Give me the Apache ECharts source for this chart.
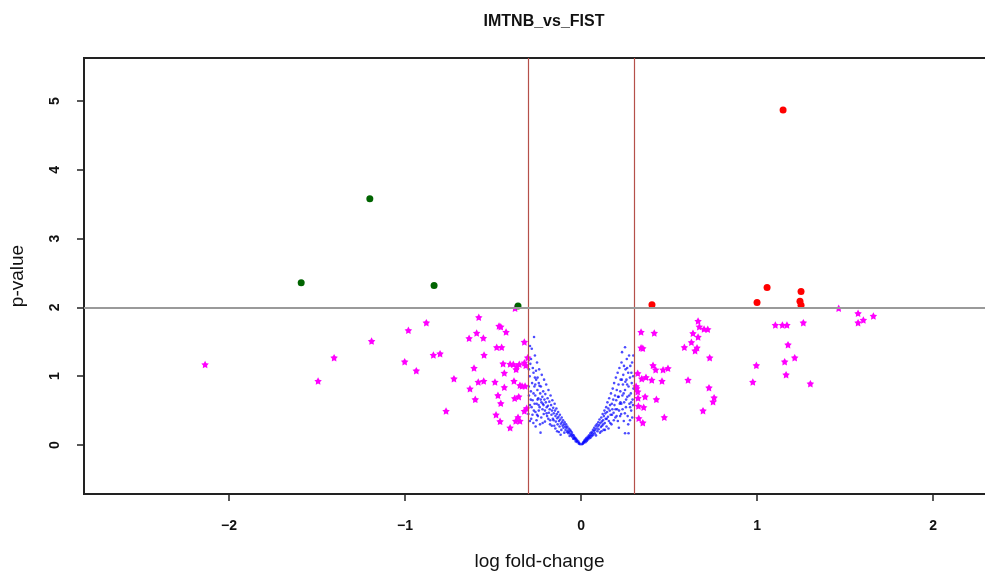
<!DOCTYPE html>
<html>
<head>
<meta charset="utf-8">
<script src="https://cdn.jsdelivr.net/npm/echarts@6/dist/echarts.min.js"></script>
<style>html,body{margin:0;padding:0;background:#fff;overflow:hidden;}#chart{width:1000px;height:577px;}</style>
</head>
<body>
<div id="chart"></div>
<script>
const titleText = 'IMTNB_vs_FIST';
const xName = 'log fold-change';
const yName = 'p-value';
const xTicks = [-2, -1, 0, 1, 2];
const yTicks = [0, 1, 2, 3, 4, 5];
const fcCutoffs = [-0.3, 0.3];
const pCutoff = 2;

const downPoints = [[-1.59, 2.36], [-1.20, 3.58], [-0.835, 2.32], [-0.358, 2.02]];
const upPoints = [[0.403, 2.04], [1.148, 4.87], [1.057, 2.29], [1.0, 2.07], [1.25, 2.23], [1.244, 2.09], [1.25, 2.03]];

const starPoints = [
[-2.136,1.17],[-1.494,0.93],[-1.403,1.27],[-1.19,1.51],
[-0.981,1.667],[-0.879,1.778],[-1.002,1.211],[-0.936,1.080],[-0.839,1.308],[-0.801,1.327],[-0.722,0.964],[-0.767,0.494],
[-0.581,1.856],[-0.636,1.551],[-0.593,1.628],[-0.555,1.555],[-0.466,1.730],[-0.456,1.719],[-0.426,1.642],[-0.479,1.420],
[-0.451,1.420],[-0.551,1.308],[-0.608,1.119],[-0.443,1.182],[-0.403,1.177],[-0.385,1.173],[-0.365,1.138],[-0.351,1.173],
[-0.369,1.100],[-0.322,1.196],[-0.314,1.158],[-0.322,1.497],[-0.303,1.269],[-0.436,1.047],[-0.584,0.916],[-0.553,0.930],
[-0.489,0.916],[-0.631,0.818],[-0.436,0.839],[-0.381,0.930],[-0.347,0.868],[-0.335,0.858],[-0.318,0.858],[-0.472,0.722],
[-0.601,0.664],[-0.377,0.679],[-0.354,0.702],[-0.456,0.606],[-0.309,0.533],[-0.322,0.494],[-0.483,0.440],[-0.460,0.344],
[-0.358,0.403],[-0.371,0.349],[-0.347,0.349],[-0.403,0.251],[-0.375,1.987],
[0.341,1.642],[0.416,1.628],[0.341,1.414],[0.351,1.406],[0.322,1.042],[0.345,0.964],[0.369,0.984],[0.402,0.945],
[0.409,1.158],[0.424,1.094],[0.466,1.094],[0.494,1.115],[0.460,0.930],[0.313,0.853],[0.316,0.824],[0.322,0.775],
[0.324,0.683],[0.364,0.702],[0.428,0.664],[0.326,0.567],[0.356,0.548],[0.328,0.388],[0.351,0.324],[0.473,0.403],
[0.665,1.802],[0.672,1.719],[0.699,1.686],[0.720,1.682],[0.636,1.624],[0.665,1.570],[0.627,1.493],[0.587,1.420],
[0.659,1.414],[0.648,1.371],[0.731,1.269],[0.608,0.945],[0.727,0.833],[0.756,0.688],[0.750,0.629],[0.693,0.499],
[0.996,1.158],[0.976,0.916],[1.464,1.987],[1.574,1.914],[1.604,1.817],[1.574,1.778],[1.661,1.875],[1.104,1.744],
[1.144,1.744],[1.170,1.744],[1.263,1.778],[1.176,1.458],[1.214,1.269],[1.157,1.211],[1.165,1.022],[1.303,0.891]
];

const nsPoints = [
[-0.005,0.01],[-0.01,0.03],[-0.012,0.02],[-0.015,0.05],[-0.02,0.04],[-0.022,0.07],[-0.025,0.06],[-0.028,0.09],[-0.03,0.05],
[-0.033,0.1],[-0.035,0.08],[-0.038,0.12],[-0.04,0.1],[-0.042,0.14],[-0.045,0.09],[-0.048,0.15],[-0.05,0.12],[-0.052,0.18],
[-0.055,0.14],[-0.058,0.2],[-0.06,0.16],[-0.062,0.22],[-0.065,0.13],[-0.068,0.19],[-0.07,0.24],[-0.072,0.17],[-0.075,0.21],
[-0.078,0.27],[-0.08,0.19],[-0.083,0.25],[-0.085,0.3],[-0.088,0.22],[-0.09,0.27],[-0.093,0.33],[-0.095,0.18],[-0.098,0.3],
[-0.1,0.25],[-0.102,0.36],[-0.105,0.28],[-0.108,0.33],[-0.11,0.4],[-0.112,0.22],[-0.115,0.31],[-0.118,0.37],[-0.12,0.44],
[-0.122,0.27],[-0.125,0.35],[-0.128,0.41],[-0.13,0.48],[-0.133,0.3],[-0.135,0.39],[-0.138,0.45],[-0.14,0.53],[-0.143,0.34],
[-0.145,0.42],[-0.148,0.5],[-0.15,0.6],[-0.152,0.28],[-0.155,0.46],[-0.158,0.54],[-0.16,0.38],[-0.163,0.65],[-0.165,0.5],
[-0.168,0.44],[-0.17,0.58],[-0.173,0.72],[-0.175,0.36],[-0.178,0.52],[-0.18,0.63],[-0.183,0.47],[-0.185,0.8],[-0.188,0.57],
[-0.19,0.68],[-0.193,0.42],[-0.195,0.55],[-0.198,0.88],[-0.2,0.62],[-0.203,0.74],[-0.205,0.5],[-0.208,0.66],[-0.21,0.95],
[-0.213,0.58],[-0.215,0.78],[-0.218,0.32],[-0.22,0.7],[-0.223,1.02],[-0.225,0.62],[-0.228,0.85],[-0.23,0.18],[-0.232,0.75],
[-0.235,0.55],[-0.238,1.1],[-0.24,0.9],[-0.243,0.68],[-0.245,0.42],[-0.248,0.8],[-0.25,1.2],[-0.252,0.6],[-0.255,0.95],
[-0.258,0.27],[-0.26,0.72],[-0.262,1.3],[-0.265,0.85],[-0.268,0.5],[-0.27,1.05],[-0.267,1.57],[-0.275,0.65],[-0.278,0.9],
[-0.28,1.4],[-0.283,0.38],[-0.285,0.78],[-0.288,1.18],[-0.29,0.58],[-0.292,1.0],[-0.29,1.44],[-0.297,0.85],[-0.299,0.45],
[-0.205,0.34],[-0.212,0.45],[-0.219,0.52],[-0.226,0.4],[-0.233,0.3],[-0.241,0.58],[-0.247,0.66],[-0.253,0.36],[-0.259,0.48],
[-0.264,0.6],[-0.271,0.32],[-0.276,0.44],[-0.281,0.55],[-0.286,0.66],[-0.291,0.35],[-0.296,0.72],[-0.262,0.98],[-0.274,1.12],
[-0.284,1.25],[-0.256,1.08],[-0.247,0.98],[-0.236,0.86],[-0.229,0.66],[-0.217,0.6],[-0.196,0.46],[-0.186,0.38],[-0.176,0.3],
[-0.166,0.28],[-0.156,0.36],[-0.146,0.24],[-0.136,0.2],[-0.126,0.19],[-0.116,0.15],[-0.296,1.1],[-0.27,0.75],[-0.24,0.5],
[-0.26,0.88],[-0.25,0.44],
[0.005,0.01],[0.01,0.02],[0.012,0.04],[0.015,0.03],[0.018,0.06],[0.02,0.05],[0.023,0.08],[0.025,0.04],[0.028,0.07],
[0.03,0.1],[0.033,0.06],[0.035,0.09],[0.038,0.12],[0.04,0.08],[0.043,0.11],[0.045,0.14],[0.048,0.1],[0.05,0.13],
[0.053,0.17],[0.055,0.11],[0.058,0.15],[0.06,0.19],[0.063,0.13],[0.065,0.17],[0.068,0.22],[0.07,0.15],[0.073,0.2],
[0.075,0.25],[0.078,0.17],[0.08,0.22],[0.083,0.28],[0.085,0.14],[0.088,0.24],[0.09,0.3],[0.093,0.2],[0.095,0.27],
[0.098,0.33],[0.1,0.23],[0.103,0.29],[0.105,0.37],[0.108,0.18],[0.11,0.32],[0.113,0.26],[0.115,0.4],[0.118,0.34],
[0.12,0.28],[0.123,0.45],[0.125,0.36],[0.128,0.22],[0.13,0.42],[0.133,0.5],[0.135,0.32],[0.138,0.46],[0.14,0.38],
[0.143,0.55],[0.145,0.27],[0.148,0.48],[0.15,0.62],[0.153,0.41],[0.155,0.53],[0.158,0.35],[0.16,0.68],[0.163,0.5],
[0.165,0.58],[0.168,0.44],[0.17,0.75],[0.173,0.3],[0.175,0.6],[0.178,0.52],[0.18,0.82],[0.183,0.66],[0.185,0.47],
[0.188,0.9],[0.19,0.58],[0.193,0.72],[0.195,0.4],[0.198,0.98],[0.2,0.65],[0.203,0.8],[0.205,0.52],[0.208,1.05],
[0.21,0.7],[0.213,0.88],[0.215,0.25],[0.218,1.12],[0.22,0.6],[0.223,0.78],[0.225,0.95],[0.228,0.45],[0.23,1.2],
[0.233,1.35],[0.235,0.72],[0.238,0.88],[0.24,1.02],[0.243,0.35],[0.245,0.62],[0.25,1.42],[0.25,0.8],[0.253,1.1],
[0.255,0.55],[0.258,0.95],[0.26,1.25],[0.263,0.7],[0.265,0.42],[0.268,1.05],[0.27,0.85],[0.273,1.3],[0.275,0.6],
[0.278,0.98],[0.28,1.15],[0.283,0.75],[0.285,0.5],[0.288,0.9],[0.29,1.2],[0.293,0.66],[0.296,1.0],[0.298,0.82],
[0.202,0.42],[0.209,0.35],[0.216,0.5],[0.222,0.42],[0.229,0.6],[0.236,0.52],[0.242,0.75],[0.249,0.46],[0.256,0.66],
[0.262,0.88],[0.268,0.3],[0.274,0.72],[0.279,0.55],[0.286,1.05],[0.291,0.4],[0.297,1.3],[0.295,0.58],[0.262,1.12],
[0.252,0.92],[0.244,1.15],[0.232,0.95],[0.224,0.62],[0.214,0.7],[0.196,0.52],[0.186,0.36],[0.176,0.44],[0.166,0.32],
[0.156,0.24],[0.146,0.38],[0.136,0.22],[0.126,0.3],[0.116,0.2],[0.27,0.17],[0.25,0.17],[0.278,0.36],[0.285,0.62]
];

const starPath = 'path://M0,-10L3.2,-4.2L9.5,-3.1L5,1.6L5.9,8.1L0,5.2L-5.9,8.1L-5,1.6L-9.5,-3.1L-3.2,-4.2Z';
const font = '"Liberation Sans", Arial, Helvetica, sans-serif';
const fmt = v => String(v).replace('-', '\u2212');

const chart = echarts.init(document.getElementById('chart'), null, {renderer: 'canvas'});
chart.setOption({
  animation: false,
  backgroundColor: '#fff',
  title: {
    text: titleText, left: 539, top: 9, textAlign: 'center',
    textStyle: {fontFamily: font, fontSize: 16, fontWeight: 'bold', color: '#111'}
  },
  grid: {left: 84, top: 58, right: 5, bottom: 83, show: true, borderColor: '#222', borderWidth: 2, backgroundColor: 'transparent'},
  xAxis: {
    type: 'value', min: -2.824, max: 2.352,
    name: xName, nameLocation: 'middle', nameGap: 58,
    nameTextStyle: {fontFamily: font, fontSize: 19, color: '#111', padding: [0, 0, 0, 0]},
    axisLine: {show: false, onZero: false},
    splitLine: {show: false},
    axisTick: {show: true, length: 7, lineStyle: {color: '#222', width: 1.5}, customValues: xTicks},
    axisLabel: {customValues: xTicks, formatter: fmt, margin: 25, fontFamily: font, fontSize: 14, fontWeight: 'bold', color: '#111'}
  },
  yAxis: {
    type: 'value', min: -0.712, max: 5.625,
    name: yName, nameLocation: 'middle', nameGap: 57, nameRotate: 90,
    nameTextStyle: {fontFamily: font, fontSize: 19, color: '#111'},
    axisLine: {show: false, onZero: false},
    splitLine: {show: false},
    axisTick: {show: true, length: 7, lineStyle: {color: '#222', width: 1.5}, customValues: yTicks},
    axisLabel: {customValues: yTicks, rotate: 90, formatter: fmt, margin: 22, fontFamily: font, fontSize: 14, fontWeight: 'bold', color: '#111'}
  },
  series: [
    {
      type: 'scatter', name: 'ns', data: nsPoints, symbol: 'circle', symbolSize: 2.6,
      itemStyle: {color: 'rgb(0,0,255)', opacity: 0.7}, z: 2, silent: true,
      markLine: {
        silent: true, symbol: ['none', 'none'], label: {show: false}, animation: false,
        data: [
          {xAxis: fcCutoffs[0], lineStyle: {color: '#B5504A', width: 1.2, type: 'solid', opacity: 1}},
          {xAxis: fcCutoffs[1], lineStyle: {color: '#B5504A', width: 1.2, type: 'solid', opacity: 1}},
          {yAxis: pCutoff, lineStyle: {color: '#9a9a9a', width: 2, type: 'solid', opacity: 1}}
        ]
      }
    },
    {type: 'scatter', name: 'fc', data: starPoints, symbol: starPath, symbolSize: 7.5, itemStyle: {color: '#FF00FF', opacity: 1}, z: 3, silent: true},
    {type: 'scatter', name: 'down', data: downPoints, symbol: 'circle', symbolSize: 7, itemStyle: {color: '#006400', opacity: 1}, z: 4, silent: true},
    {type: 'scatter', name: 'up', data: upPoints, symbol: 'circle', symbolSize: 7, itemStyle: {color: '#FF0000', opacity: 1}, z: 4, silent: true}
  ]
});
</script>
</body>
</html>
